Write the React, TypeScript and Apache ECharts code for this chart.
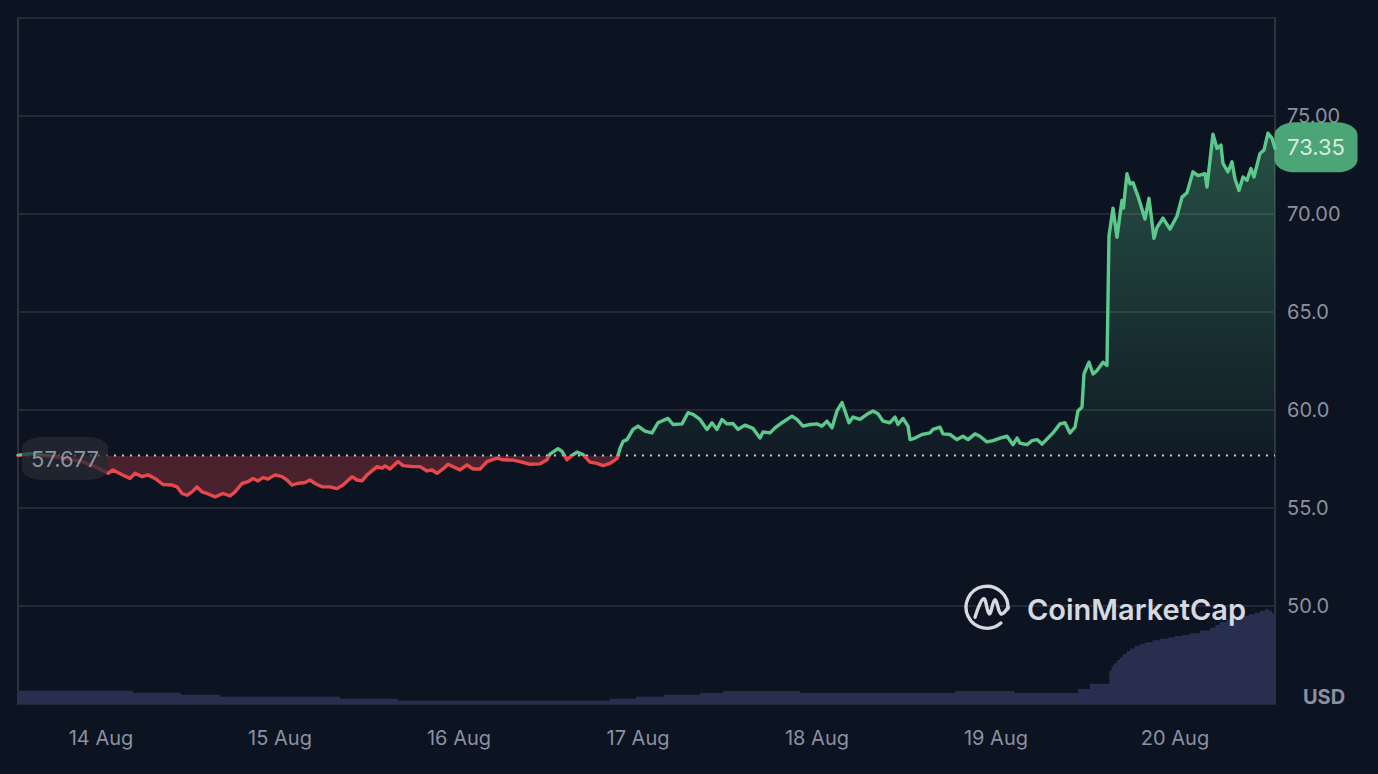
import React, { useEffect, useRef } from "react";
import * as echarts from "echarts";

// ---- data ----
const BASE_PRICE = 57.677;
const BASE_LABEL = "57.677";
const LAST_LABEL = "73.35";

// hours relative to 14 Aug 00:00 (local time)
const hours = [
  -11.13, -9.52, -7.51, -5.5, -2.55, -0.8, 0.94, 1.61, 2.82, 3.89,
  4.56, 5.5, 6.3, 7.24, 8.31, 9.52, 10.19, 10.86, 11.53, 12.2,
  12.87, 13.54, 14.21, 15.29, 16.36, 17.3, 17.97, 18.91, 19.71, 20.38,
  21.05, 21.72, 22.39, 23.33, 24.27, 24.94, 25.61, 26.28, 27.35, 28.02,
  28.69, 29.63, 30.7, 31.64, 32.45, 33.65, 34.32, 34.99, 35.67, 37.01,
  37.68, 38.08, 38.75, 39.82, 40.49, 41.83, 42.77, 43.71, 44.38, 45.05,
  45.85, 46.53, 47.2, 48.13, 49.07, 49.88, 50.82, 51.75, 53.1, 53.9,
  55.24, 56.18, 57.52, 58.86, 59.8, 60.2, 61.27, 61.81, 62.48, 63.15,
  63.82, 64.63, 65.56, 66.5, 67.31, 68.25, 68.92, 69.19, 69.59, 70.0,
  70.53, 71.33, 72.0, 72.94, 73.88, 74.68, 76.02, 76.7, 77.9, 78.71,
  79.38, 80.31, 81.25, 81.92, 82.59, 83.26, 83.93, 84.74, 85.41, 86.35,
  87.42, 88.36, 88.76, 89.7, 90.37, 91.31, 92.65, 93.32, 94.12, 95.06,
  96.0, 96.67, 97.34, 98.01, 98.68, 99.35, 99.75, 100.29, 100.83, 101.76,
  102.7, 103.51, 104.18, 104.85, 105.79, 106.46, 106.86, 107.53, 108.2, 108.47,
  109.14, 110.08, 111.15, 111.55, 112.49, 112.89, 113.83, 114.77, 115.57, 116.25,
  117.18, 117.85, 118.79, 119.6, 120.54, 121.48, 122.28, 122.82, 123.22, 124.16,
  124.83, 125.5, 126.17, 126.97, 127.64, 128.58, 129.25, 129.92, 130.59, 130.99,
  131.53, 131.8, 132.47, 133.01, 133.54, 134.35, 134.88, 135.15, 135.69, 136.22,
  136.89, 137.09, 137.56, 137.97, 138.37, 139.04, 139.98, 140.51, 141.18, 141.59,
  142.39, 143.33, 144.27, 144.94, 145.61, 146.41, 147.08, 148.02, 148.29, 149.09,
  149.63, 150.16, 150.43, 151.1, 151.64, 152.04, 152.58, 153.12, 153.65, 154.19,
  154.59, 155.4, 155.93, 156.47, 157.01, 157.41,
];

const prices = [
  57.68, 57.78, 57.68, 57.58, 57.37, 57.11, 56.77, 56.94, 56.7, 56.51,
  56.77, 56.6, 56.69, 56.51, 56.2, 56.17, 56.08, 55.74, 55.65, 55.82,
  56.08, 55.82, 55.74, 55.57, 55.74, 55.62, 55.82, 56.25, 56.34, 56.51,
  56.38, 56.55, 56.48, 56.69, 56.6, 56.43, 56.17, 56.25, 56.3, 56.43,
  56.25, 56.08, 56.08, 55.99, 56.17, 56.6, 56.43, 56.38, 56.69, 57.11,
  57.03, 57.15, 56.99, 57.37, 57.16, 57.11, 57.11, 56.89, 56.94, 56.77,
  56.99, 57.23, 57.11, 56.94, 57.2, 56.99, 56.99, 57.37, 57.54, 57.46,
  57.44, 57.37, 57.23, 57.25, 57.46, 57.75, 58.03, 57.89, 57.46, 57.68,
  57.85, 57.72, 57.34, 57.28, 57.16, 57.28, 57.46, 57.53, 58.04, 58.4,
  58.49, 59.01, 59.18, 58.92, 58.83, 59.35, 59.57, 59.26, 59.29, 59.86,
  59.78, 59.52, 59.01, 59.35, 59.01, 59.52, 59.29, 59.31, 59.01, 59.23,
  59.06, 58.57, 58.88, 58.83, 59.09, 59.35, 59.69, 59.52, 59.18, 59.26,
  59.29, 59.18, 59.43, 59.09, 59.95, 60.38, 59.95, 59.35, 59.64, 59.52,
  59.78, 59.95, 59.81, 59.43, 59.35, 59.64, 59.26, 59.57, 59.18, 58.49,
  58.57, 58.75, 58.83, 59.01, 59.12, 58.78, 58.75, 58.49, 58.66, 58.49,
  58.78, 58.66, 58.37, 58.44, 58.57, 58.66, 58.23, 58.57, 58.31, 58.23,
  58.44, 58.49, 58.26, 58.57, 58.83, 59.29, 59.35, 58.83, 59.12, 59.95,
  60.15, 61.84, 62.44, 61.84, 62.01, 62.44, 62.27, 68.88, 70.3, 68.81,
  70.69, 70.3, 72.06, 71.54, 71.6, 70.9, 69.74, 70.8, 68.76, 69.31,
  69.79, 69.23, 69.9, 70.86, 71.08, 72.15, 71.96, 72.06, 71.38, 74.07,
  73.35, 73.52, 72.58, 72.15, 72.66, 71.8, 71.2, 71.89, 71.72, 72.32,
  71.89, 73.09, 73.26, 74.12, 73.86, 73.35,
];

const volHours = [
  -11.13, 4.3, 10.7, 16.0, 32.0, 39.8, 68.2, 71.7, 75.5, 80.3,
  83.4, 93.7, 114.5, 122.5, 131.0, 132.6, 135.2, 135.5, 135.8, 136.2,
  136.6, 137.0, 137.5, 138.0, 138.6, 139.3, 140.0, 141.0, 142.0, 143.0,
  144.0, 145.0, 146.0, 147.3, 148.7, 149.4, 150.0, 150.9, 151.8, 152.4,
  153.0, 153.9, 154.7, 155.4, 156.1, 156.6, 157.0, 157.41,
];
const volumes = [
  1.94, 1.65, 1.36, 1.07, 0.77, 0.48, 0.77, 1.07, 1.36, 1.6,
  1.9, 1.6, 1.9, 1.6, 2.2, 2.96, 4.9, 5.5, 5.9, 6.4,
  6.8, 7.3, 7.7, 8.1, 8.5, 8.8, 9.0, 9.3, 9.5, 9.7,
  9.9, 10.1, 10.3, 10.7, 11.1, 11.5, 11.9, 12.3, 12.6, 12.8,
  12.9, 13.1, 13.3, 13.6, 13.8, 13.6, 13.2, 13.2,
];

const MONTHS = ["Jan", "Feb", "Mar", "Apr", "May", "Jun", "Jul", "Aug", "Sep", "Oct", "Nov", "Dec"];
const yTicks = [50, 55, 60, 65, 70, 75];
const yTickLabels = ["50.0", "55.0", "60.0", "65.0", "70.00", "75.00"];

// ---- styles ----
const BG = "#0d1421";
const FRAME = "#2c313d";
const GRID = "#242935";
const LABEL = "#8b90a0";
const GREEN = "#5bc98c";
const RED = "#e8474c";
const VOL = "#272e4e";
const WM = "#d6d9e0";
const FONT = "Inter, 'Noto Sans', sans-serif";

const DAY0 = new Date(2024, 7, 14, 0, 0, 0).getTime();
const HOUR = 3600 * 1000;
const toTime = (h: number) => DAY0 + h * HOUR;

export default function App() {
  const ref = useRef<HTMLDivElement>(null);

  useEffect(() => {
    const chart = echarts.init(ref.current!, null, { renderer: "svg" });
    const priceData = hours.map((h, i) => [toTime(h), prices[i]]);
    const volData = volHours.map((h, i) => [toTime(h), volumes[i]]);
    const xMin = toTime(hours[0]);
    const xMax = toTime(hours[hours.length - 1]);
    const lastIdx = prices.length - 1;
    const vMax = Math.max(...prices);
    const vMin = Math.min(...prices, BASE_PRICE);

    const option: any = {
      animation: false,
      backgroundColor: BG,
      textStyle: { fontFamily: FONT },
      grid: {
        left: 18,
        right: 103,
        top: 18,
        bottom: 70,
        show: true,
        borderColor: FRAME,
        borderWidth: 2,
        backgroundColor: "transparent",
        containLabel: false,
      },
      xAxis: {
        type: "time",
        min: xMin,
        max: xMax,
        minInterval: 24 * HOUR,
        maxInterval: 24 * HOUR,
        axisLine: { show: false },
        axisTick: { show: false },
        splitLine: { show: false },
        axisLabel: {
          formatter: (v: number) => {
            const d = new Date(v);
            if (d.getHours() !== 0 || d.getMinutes() !== 0) return "";
            return d.getDate() + " " + MONTHS[d.getMonth()];
          },
          color: LABEL,
          fontSize: 20,
          fontFamily: FONT,
          margin: 24,
        },
      },
      yAxis: [
        {
          type: "value",
          position: "right",
          min: 45,
          max: 80,
          interval: 5,
          axisLine: { show: false },
          axisTick: { show: false },
          splitLine: { lineStyle: { color: GRID, width: 2 } },
          axisLabel: {
            formatter: (v: number) => {
              const i = yTicks.indexOf(v);
              return i >= 0 ? yTickLabels[i] : "";
            },
            color: LABEL,
            fontSize: 20,
            fontFamily: FONT,
            margin: 12,
          },
        },
        { type: "value", min: 0, max: 100, show: false },
      ],
      series: [
        {
          type: "line",
          name: "volume",
          data: volData,
          yAxisIndex: 1,
          step: "end",
          symbol: "none",
          showSymbol: false,
          lineStyle: { width: 0 },
          itemStyle: { color: VOL },
          areaStyle: { color: VOL, opacity: 1 },
          z: 1,
          silent: true,
        },
        {
          type: "line",
          name: "fill",
          data: priceData,
          symbol: "none",
          showSymbol: false,
          lineStyle: { width: 0, opacity: 0 },
          areaStyle: { origin: BASE_PRICE, opacity: 1, color: "rgba(0,0,0,0)" },
          z: 2,
          silent: true,
        },
        {
          type: "line",
          name: "baseline",
          data: [
            [xMin, BASE_PRICE],
            [xMax, BASE_PRICE],
          ],
          symbol: "none",
          showSymbol: false,
          silent: true,
          lineStyle: { type: [2, 6], color: "#c4c8d0", width: 2 },
          z: 3,
        },
        {
          type: "line",
          name: "price",
          data: priceData,
          symbol: "none",
          showSymbol: false,
          lineStyle: { width: 3.4, join: "round", cap: "round", color: GREEN },
          z: 4,
        },
        {
          type: "scatter",
          name: "badges",
          clip: false,
          silent: true,
          z: 10,
          data: [
            {
              value: [xMin, BASE_PRICE],
              symbol: "roundRect",
              symbolSize: [86, 43],
              symbolOffset: [47, 3],
              itemStyle: { color: "rgba(38,42,52,0.93)" },
              label: {
                show: true,
                position: "inside",
                formatter: BASE_LABEL,
                color: "#aeb2bd",
                fontSize: 22,
                fontFamily: FONT,
              },
            },
            {
              value: [toTime(hours[lastIdx]), prices[lastIdx]],
              symbol: "roundRect",
              symbolSize: [83, 50],
              symbolOffset: [41, -1],
              itemStyle: { color: GREEN },
              label: {
                show: true,
                position: "inside",
                formatter: LAST_LABEL,
                color: "#ffffff",
                fontSize: 22,
                fontFamily: FONT,
              },
            },
          ],
        },
      ],
      graphic: [
        {
          type: "arc",
          z: 10,
          shape: { cx: 987, cy: 607.3, r: 21, startAngle: 0.85, endAngle: 6.35, clockwise: true },
          style: { stroke: WM, lineWidth: 3.4, fill: "none", lineCap: "round" },
        },
        {
          type: "polyline",
          z: 10,
          shape: {
            points: [
              [975, 617.3],
              [983.7, 598.6],
              [989.3, 614],
              [995, 599.6],
              [1001, 614],
              [1008.3, 607.3],
            ],
            smooth: 0.4,
          },
          style: { stroke: WM, lineWidth: 3.4, fill: "none", lineCap: "round", lineJoin: "round" },
        },
        {
          type: "text",
          z: 10,
          x: 1027,
          y: 609,
          style: {
            text: "CoinMarketCap",
            fill: WM,
            fontSize: 29,
            fontWeight: 600,
            fontFamily: FONT,
            align: "left",
            verticalAlign: "middle",
          },
        },
        {
          type: "text",
          z: 10,
          x: 1324,
          y: 697,
          style: {
            text: "USD",
            fill: LABEL,
            fontSize: 20,
            fontWeight: 700,
            fontFamily: FONT,
            align: "center",
            verticalAlign: "middle",
          },
        },
      ],
    };

    chart.setOption(option);

    // colour split at the baseline, in pixel space from the axis scale
    const py = (v: number) => chart.convertToPixel({ yAxisIndex: 0 }, v) as number;
    const yA = py(vMax) - 6;
    const yB = py(vMin) + 6;
    const o = Math.min(1, Math.max(0, (py(BASE_PRICE) - yA) / (yB - yA)));
    const lineGrad = new echarts.graphic.LinearGradient(
      0, yA, 0, yB,
      [
        { offset: 0, color: GREEN },
        { offset: o, color: GREEN },
        { offset: o, color: RED },
        { offset: 1, color: RED },
      ],
      true
    );
    const areaGrad = new echarts.graphic.LinearGradient(
      0, yA, 0, yB,
      [
        { offset: 0, color: "rgba(91,201,140,0.34)" },
        { offset: o, color: "rgba(91,201,140,0.04)" },
        { offset: o, color: "rgba(232,71,76,0.27)" },
        { offset: 1, color: "rgba(232,71,76,0.27)" },
      ],
      true
    );
    chart.setOption({
      series: [
        {},
        { areaStyle: { color: areaGrad } },
        {},
        { lineStyle: { color: lineGrad } },
        {},
      ],
    });

    return () => chart.dispose();
  }, []);

  return (
    <div
      ref={ref}
      style={{ position: "fixed", left: 0, top: 0, width: 1378, height: 774 }}
    />
  );
}
